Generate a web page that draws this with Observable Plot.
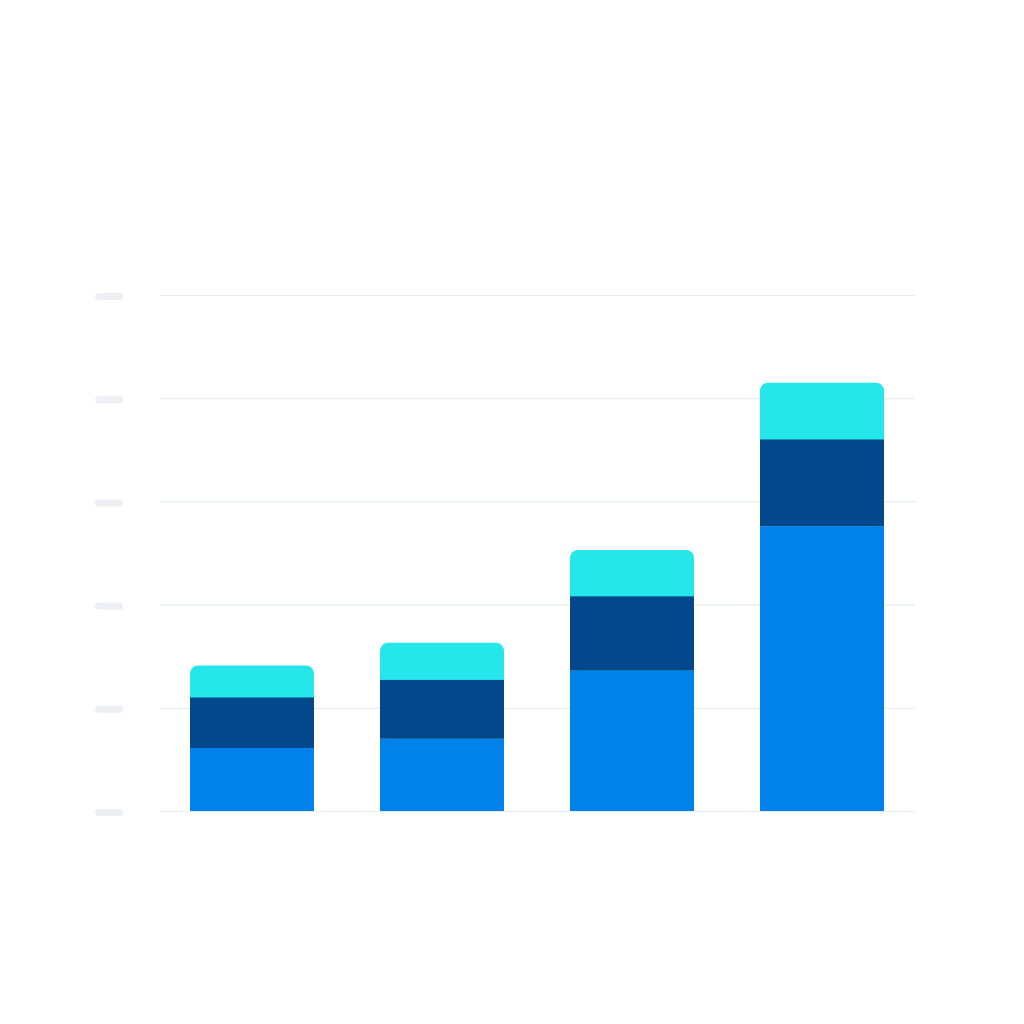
<!DOCTYPE html>
<html>
<head>
<meta charset="utf-8">
<script src="https://cdn.jsdelivr.net/npm/d3@7"></script>
<script src="https://cdn.jsdelivr.net/npm/@observablehq/plot@0.6"></script>
<style>
  html, body { margin: 0; padding: 0; background: #ffffff; }
  #chart svg { display: block; }
</style>
</head>
<body>
<div id="chart"></div>
<script>
const categories = ["Q1", "Q2", "Q3", "Q4"];
const seriesNames = ["Base", "Middle", "Top"];
const baseValues = [6.1, 7.0, 13.6, 27.6];
const middleValues = [4.9, 5.7, 7.2, 8.4];
const topValues = [3.1, 3.6, 4.5, 5.5];
const yTicks = [0, 10, 20, 30, 40, 50];
const colors = ["#0082ea", "#03478c", "#25e6e8"];

// build stacked segments
const rows = [];
categories.forEach((c, i) => {
  const b = baseValues[i], m = middleValues[i], t = topValues[i];
  rows.push({cat: c, series: "Base", y1: 0, y2: b});
  rows.push({cat: c, series: "Middle", y1: b, y2: b + m});
  rows.push({cat: c, series: "Top", y1: b, y2: b + m + t}); // extends under Middle; hidden bottom corners
});
const topRows = rows.filter(d => d.series === "Top");
const lowerRows = rows.filter(d => d.series !== "Top");

const W = 1024, H = 1024;
const mL = 160, mR = 109, mT = 295, mB = 213;
const pillLeft = 98.5, pillRight = 119.5;

const plot = Plot.plot({
  width: W,
  height: H,
  marginLeft: mL,
  marginRight: mR,
  marginTop: mT,
  marginBottom: mB,
  style: {background: "#ffffff", overflow: "visible"},
  x: {domain: categories, paddingInner: 0.347, paddingOuter: 0.155, axis: null},
  y: {domain: [0, 50], axis: null},
  color: {domain: seriesNames, range: colors},
  marks: [
    Plot.ruleY(yTicks, {stroke: "#e9ecf1", strokeWidth: 1.2}),
    Plot.ruleY(yTicks, {
      stroke: "#edeff4",
      strokeWidth: 7,
      strokeLinecap: "round",
      dy: 1,
      insetLeft: pillLeft - mL,
      insetRight: (W - mR) - pillRight
    }),
    Plot.rectY(topRows, {x: "cat", y1: "y1", y2: "y2", fill: "series", rx: 8}),
    Plot.rectY(lowerRows, {x: "cat", y1: "y1", y2: "y2", fill: "series"})
  ]
});
document.getElementById("chart").appendChild(plot);
</script>
</body>
</html>
